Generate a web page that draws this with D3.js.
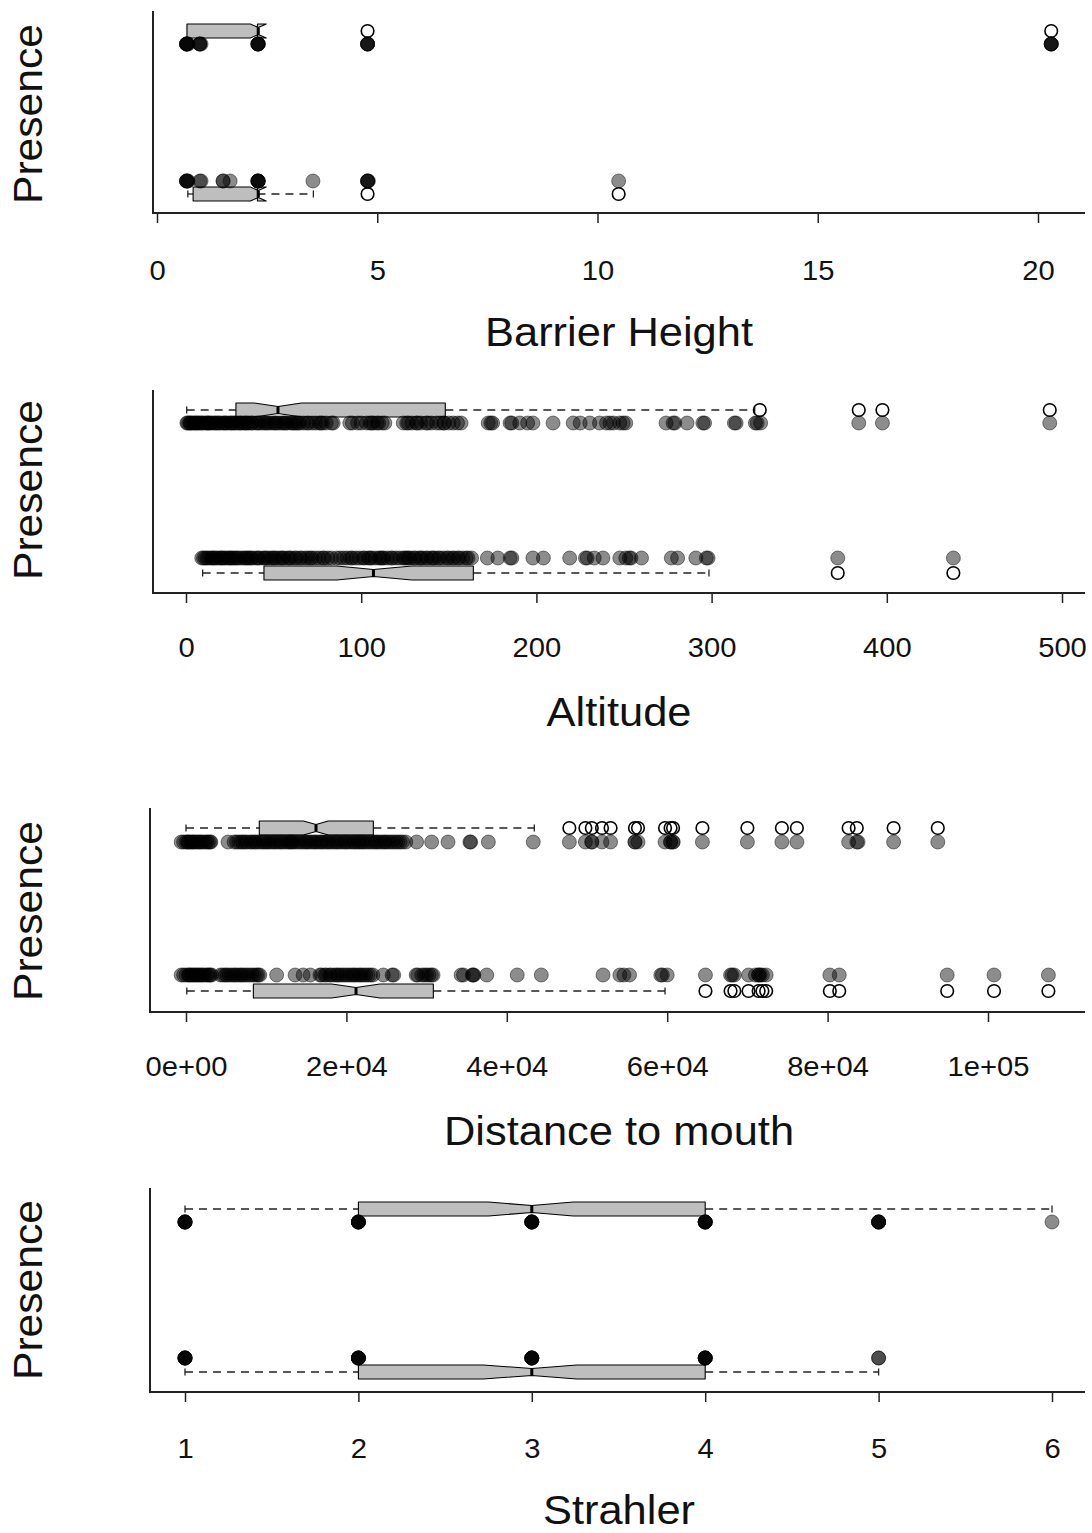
<!DOCTYPE html>
<html>
<head>
<meta charset="utf-8">
<script src="https://cdn.jsdelivr.net/npm/d3@7/dist/d3.min.js"></script>
<style>
  html, body { margin: 0; padding: 0; background: #fff; }
  svg { display: block; }
</style>
</head>
<body>
<svg id="chart" width="1092" height="1533"></svg>
<script>
// ---------------- DATA ----------------
const panelTitles = ["Barrier Height", "Altitude", "Distance to mouth", "Strahler"];
const yLabel = "Presence";

const barrierTicks = [0, 5, 10, 15, 20];
const barrierTickLabels = ["0", "5", "10", "15", "20"];
const altitudeTicks = [0, 100, 200, 300, 400, 500];
const altitudeTickLabels = ["0", "100", "200", "300", "400", "500"];
const distanceTicks = [0, 20000, 40000, 60000, 80000, 100000];
const distanceTickLabels = ["0e+00", "2e+04", "4e+04", "6e+04", "8e+04", "1e+05"];
const strahlerTicks = [1, 2, 3, 4, 5, 6];
const strahlerTickLabels = ["1", "2", "3", "4", "5", "6"];

// box stats: [whiskerLow, Q1, median, Q3, whiskerHigh, notchLow, notchHigh]
const barrierStatsPresent = [0.7, 0.68, 2.3, 2.28, 2.3, 2.12, 2.48];
const barrierStatsAbsent  = [0.7, 0.82, 2.3, 2.28, 3.55, 2.12, 2.48];
const barrierOutPresent = [4.78, 20.3];
const barrierOutAbsent  = [4.78, 10.48];
const barrierPtsPresent = [0.67, 0.67, 0.67, 0.67, 0.7, 0.7, 0.97, 0.97, 0.97, 1.0, 2.29, 2.29, 2.29, 2.3, 2.3,
  4.78, 4.78, 4.78, 4.78, 20.3, 20.3, 20.3, 20.3];
const barrierPtsAbsent = [0.67, 0.67, 0.67, 0.7, 0.7, 0.97, 1.0, 1.5, 1.5, 1.66, 2.29, 2.29, 2.29, 2.3, 2.3,
  3.54, 4.78, 4.78, 4.78, 4.8, 10.48];

const altitudeStatsPresent = [0.4, 28.5, 52.5, 148, 324.6, 39, 66];
const altitudeStatsAbsent  = [9.5, 44.5, 107, 164, 298.5, 86, 129];
const altitudeOutPresent = [327.5, 384, 397.5, 493];
const altitudeOutAbsent  = [372, 438];
const altitudePtsPresent = [
  0.5, 1, 2, 2.5, 3, 4, 5, 5.5, 6.5, 7, 8, 9, 9.5, 11, 12, 12.5, 13, 14, 15, 16.5, 17, 18, 19, 20, 21.5,
  22, 23, 24, 25.5, 26, 27, 28, 29, 30.5, 31, 32, 33.5, 34, 35, 36, 37.5, 38, 40, 41, 42, 43.5, 45, 46,
  47, 48.5, 50, 51, 52, 53.5, 55, 56, 57, 58, 60, 61, 62, 63, 64, 65, 67, 69, 70, 72, 74, 76, 77, 78,
  80, 83, 84, 93.5, 95, 98, 100, 103, 105, 106, 107, 109, 110, 112, 113.5, 124, 126, 127, 129, 131.6,
  132, 134, 137, 138, 140, 143, 145, 147, 147.5, 150, 152.5, 155, 157, 172.5, 174, 175, 185, 186,
  190.5, 195, 198, 209.5, 221, 225, 230.5, 236, 240, 242, 244, 247.6, 249.5, 251, 274, 278, 279, 286,
  295, 296, 313, 314, 325, 326, 328, 384, 397.5, 493];
const altitudePtsAbsent = [
  9, 10, 11, 12, 13, 14.5, 15, 16, 17, 18, 19.5, 20, 21, 22, 23, 24.5, 25, 26, 27, 28, 29, 30, 31.5, 33,
  34, 35, 36, 37, 38, 40, 41, 42, 44, 45, 46, 47.5, 49, 50, 51, 52.5, 54, 55, 56, 58, 59, 60, 62, 63,
  65, 66, 68, 69.5, 71, 72, 74, 76, 78, 79, 81, 83, 86, 88, 90, 92, 94, 95, 97, 99, 101, 102, 104, 105,
  106, 108, 110, 111, 112, 113, 115, 117, 118, 120, 122, 124, 125, 126, 127, 128, 130, 131, 133, 134,
  135, 137, 138, 140, 141, 142, 144, 145, 147, 149, 150, 152, 153, 155, 156, 158, 160, 161, 163, 172,
  178, 185, 186, 198, 204, 219, 228, 229, 233, 238, 247.6, 251, 253, 254, 260, 277, 280.6, 291, 297,
  298, 372, 438];

const distanceStatsPresent = [0, 9140, 16210, 23360, 43430, 14630, 17740];
const distanceStatsAbsent  = [100, 8400, 21200, 30840, 59730, 18160, 24190];
const distanceOutPresent = [47800, 49800, 50600, 51870, 52940, 55980, 56360, 59730, 60420, 60730, 64390,
  70000, 74300, 76170, 82620, 83640, 88230, 93740];
const distanceOutAbsent = [64770, 67900, 68370, 70140, 71400, 71870, 72340, 80280, 81450, 94910, 100750, 107530];
const distancePtsPresent = [
  -600, -300, 0, 200, 300, 500, 700, 900, 1000, 1300, 1500, 1700, 1900, 2100, 2400, 2600, 2800, 3000,
  3100, 5240, 6000, 6300, 6600, 6900, 7100, 7400, 7600, 8000, 8200, 8500, 8700, 9000, 9300, 9600, 9800,
  10100, 10300, 10600, 10900, 11100, 11400, 11700, 11900, 12200, 12500, 12800, 13000, 13200, 13400,
  13700, 14000, 14300, 14600, 14900, 15100, 15400, 15700, 16000, 16200, 16500, 16800, 17000, 17300,
  17600, 17800, 18100, 18400, 18700, 18900, 19200, 19500, 19800, 20000, 20300, 20600, 20900, 21100,
  21400, 21600, 21900, 22100, 22400, 22700, 23000, 23300, 23600, 23800, 24100, 24400, 24700, 24900,
  25200, 25500, 25800, 26100, 26400, 26700, 27000, 27400, 28760, 30630, 32670, 35400, 35500, 37700,
  43300, 47800, 49800, 50600, 50600, 51870, 52940, 55980, 55980, 56360, 59730, 60420, 60420, 60730,
  60730, 64390, 70000, 74300, 76170, 82620, 83640, 83800, 88230, 93740];
const distancePtsAbsent = [
  -600, -300, 0, 300, 400, 600, 800, 1000, 1200, 1400, 1600, 1800, 2000, 2200, 2500, 2700, 2900, 3000,
  3200, 4300, 4600, 4900, 5100, 5400, 5700, 6000, 6200, 6500, 6800, 7000, 7300, 7600, 7900, 8200, 8500,
  8800, 9000, 9200, 11300, 13600, 14600, 15500, 16700, 16900, 17300, 17500, 17900, 18100, 18500, 18800,
  19000, 19300, 19600, 19900, 20200, 20500, 20800, 21000, 21300, 21600, 21800, 22100, 22400, 22700,
  23000, 23300, 24600, 25700, 25900, 28700, 28900, 29400, 29700, 30000, 30300, 30600, 30800, 34300,
  34600, 35700, 35800, 35900, 37500, 41300, 44300, 52000, 54100, 54600, 55300, 59200, 59400, 60000,
  64770, 67900, 68100, 68370, 70140, 71000, 71400, 71400, 71600, 71870, 72340, 80280, 81450,
  94910, 100750, 107530];

const strahlerStatsPresent = [1, 2, 3, 4, 6, 2.75, 3.24];
const strahlerStatsAbsent  = [1, 2, 3, 4, 5, 2.72, 3.26];
const strahlerOutPresent = [];
const strahlerOutAbsent = [];
const strahlerPtsPresent = [1, 1, 1, 1, 1, 1, 2, 2, 2, 2, 2, 2, 3, 3, 3, 3, 3, 3, 4, 4, 4, 4, 4, 4, 5, 5, 5, 5, 5, 6];
const strahlerPtsAbsent  = [1, 1, 1, 1, 1, 1, 2, 2, 2, 2, 2, 2, 3, 3, 3, 3, 3, 3, 4, 4, 4, 4, 4, 4, 5, 5];

// ---------------- LAYOUT ----------------
const FONT = "'Liberation Sans', Arial, Helvetica, sans-serif";
const panels = [
  { domain: [0, 20], range: [157, 1038], ticks: barrierTicks, labels: barrierTickLabels,
    xLeft: 153, xRight: 1085, yTop: 11, yAxis: 213, boxTop: 31, boxBot: 194, ptTop: 44, ptBot: 181,
    tickY: 280, titleY: 346, presY: 114,
    statsP: barrierStatsPresent, statsA: barrierStatsAbsent, outP: barrierOutPresent, outA: barrierOutAbsent,
    ptsP: barrierPtsPresent, ptsA: barrierPtsAbsent },
  { domain: [0, 500], range: [186, 1062], ticks: altitudeTicks, labels: altitudeTickLabels,
    xLeft: 153, xRight: 1085, yTop: 390, yAxis: 593, boxTop: 410, boxBot: 573, ptTop: 423, ptBot: 558,
    tickY: 657, titleY: 726, presY: 490,
    statsP: altitudeStatsPresent, statsA: altitudeStatsAbsent, outP: altitudeOutPresent, outA: altitudeOutAbsent,
    ptsP: altitudePtsPresent, ptsA: altitudePtsAbsent },
  { domain: [0, 100000], range: [186, 988], ticks: distanceTicks, labels: distanceTickLabels,
    xLeft: 150, xRight: 1085, yTop: 808, yAxis: 1012, boxTop: 828, boxBot: 991, ptTop: 842, ptBot: 975,
    tickY: 1076, titleY: 1145, presY: 911,
    statsP: distanceStatsPresent, statsA: distanceStatsAbsent, outP: distanceOutPresent, outA: distanceOutAbsent,
    ptsP: distancePtsPresent, ptsA: distancePtsAbsent },
  { domain: [1, 6], range: [185, 1052], ticks: strahlerTicks, labels: strahlerTickLabels,
    xLeft: 150, xRight: 1085, yTop: 1188, yAxis: 1392, boxTop: 1209, boxBot: 1372, ptTop: 1222, ptBot: 1358,
    tickY: 1458, titleY: 1524, presY: 1290,
    statsP: strahlerStatsPresent, statsA: strahlerStatsAbsent, outP: strahlerOutPresent, outA: strahlerOutAbsent,
    ptsP: strahlerPtsPresent, ptsA: strahlerPtsAbsent }
];

const svg = d3.select("#chart");
const HALF = 7;           // box half height
const PT_FILL = "rgba(0,0,0,0.45)";

function drawBox(g, x, cy, s, outliers) {
  const [wl, q1, med, q3, wh, nl, nh] = s;
  const w = HALF;
  const wg = g.append("g").attr("stroke", "#222").attr("stroke-width", 1.3);
  wg.append("line").attr("x1", x(wl)).attr("x2", x(q1)).attr("y1", cy).attr("y2", cy).attr("stroke-dasharray", "8,6");
  wg.append("line").attr("x1", x(q3)).attr("x2", x(wh)).attr("y1", cy).attr("y2", cy).attr("stroke-dasharray", "8,6");
  wg.append("line").attr("x1", x(wl)).attr("x2", x(wl)).attr("y1", cy - w / 2).attr("y2", cy + w / 2);
  wg.append("line").attr("x1", x(wh)).attr("x2", x(wh)).attr("y1", cy - w / 2).attr("y2", cy + w / 2);
  const xs = [q1, nl, med, nh, q3, q3, nh, med, nl, q1];
  const ys = [-w, -w, -w / 2, -w, -w, w, w, w / 2, w, w];
  const pts = xs.map((v, i) => [x(v), cy + ys[i]]);
  g.append("path").attr("d", d3.line()(pts) + "Z")
    .attr("fill", "#bebebe").attr("stroke", "#000").attr("stroke-width", 1.1).attr("stroke-linejoin", "round");
  g.append("line").attr("x1", x(med)).attr("x2", x(med)).attr("y1", cy - w / 2).attr("y2", cy + w / 2)
    .attr("stroke", "#000").attr("stroke-width", 3);
  g.selectAll(null).data(outliers).enter().append("circle")
    .attr("cx", d => x(d)).attr("cy", cy).attr("r", 6.3)
    .attr("fill", "none").attr("stroke", "#000").attr("stroke-width", 1.6);
}

function drawPoints(g, x, cy, vals) {
  g.selectAll(null).data(vals).enter().append("circle")
    .attr("cx", d => x(d)).attr("cy", cy).attr("r", 7)
    .attr("fill", PT_FILL).attr("stroke", PT_FILL).attr("stroke-width", 1);
}

panels.forEach((p, i) => {
  const g = svg.append("g");
  const x = d3.scaleLinear().domain(p.domain).range(p.range);

  drawBox(g, x, p.boxTop, p.statsP, p.outP);
  drawBox(g, x, p.boxBot, p.statsA, p.outA);
  drawPoints(g, x, p.ptTop, p.ptsP);
  drawPoints(g, x, p.ptBot, p.ptsA);

  g.append("path")
    .attr("d", `M${p.xLeft},${p.yTop}V${p.yAxis}H${p.xRight}`)
    .attr("fill", "none").attr("stroke", "#222").attr("stroke-width", 2);

  const axis = d3.axisBottom(x).tickValues(p.ticks).tickSize(10)
    .tickFormat((d, j) => p.labels[j]);
  const ag = g.append("g").attr("transform", `translate(0,${p.yAxis})`).call(axis);
  ag.select(".domain").remove();
  ag.selectAll(".tick line").attr("stroke", "#222").attr("stroke-width", 1.5);
  ag.selectAll(".tick text")
    .attr("y", 0).attr("dy", 0)
    .attr("transform", `translate(0,${p.tickY - p.yAxis}) scale(1.08,1)`)
    .attr("font-family", FONT).attr("font-size", 27).attr("fill", "#111");

  g.append("text").attr("transform", `translate(619,${p.titleY}) scale(1.06,1)`)
    .attr("text-anchor", "middle")
    .attr("font-family", FONT).attr("font-size", 41).attr("fill", "#111").text(panelTitles[i]);

  g.append("text").attr("transform", `translate(42,${p.presY}) rotate(-90) scale(1.04,1)`)
    .attr("text-anchor", "middle")
    .attr("font-family", FONT).attr("font-size", 41).attr("fill", "#111").text(yLabel);
});
</script>
</body>
</html>
